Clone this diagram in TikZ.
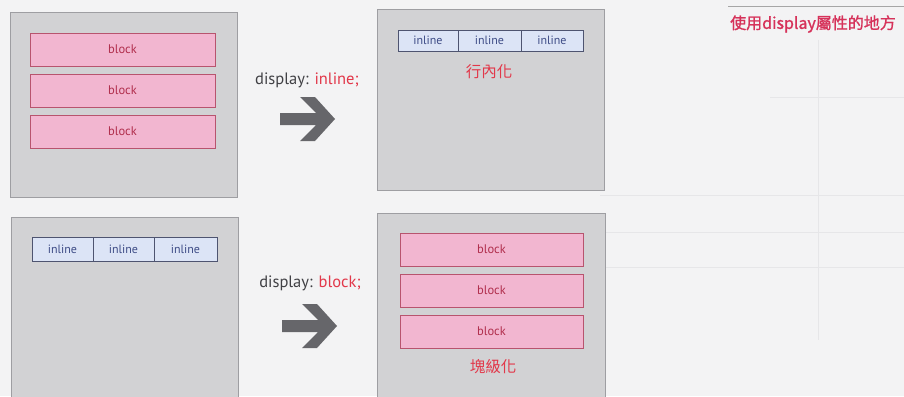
\documentclass[tikz,border=0pt]{standalone}
\usepackage{fontspec}
\setmainfont{PT Sans}
\newfontfamily\cjk{Noto Sans CJK TC}
\newfontfamily\cjkheavy[FakeBold=1.2]{Noto Sans CJK TC}
\definecolor{pagebg}{HTML}{F3F3F4}
\definecolor{panelfill}{HTML}{D2D2D4}
\definecolor{paneldraw}{HTML}{9E9EA2}
\definecolor{blockfill}{HTML}{F2B6D0}
\definecolor{blockdraw}{HTML}{B8546E}
\definecolor{blocktext}{HTML}{B02E4C}
\definecolor{inlfill}{HTML}{DCE4F6}
\definecolor{inldraw}{HTML}{4E5470}
\definecolor{inltext}{HTML}{3E4C86}
\definecolor{accent}{HTML}{E2384A}
\definecolor{heading}{HTML}{D6325A}
\definecolor{dark}{HTML}{404044}
\definecolor{arrowgray}{HTML}{66666A}
\definecolor{ghost}{HTML}{E6E6E8}
\tikzset{
  panel/.style={draw=paneldraw, fill=panelfill, line width=1pt, anchor=north west,
    minimum width=227pt, inner sep=0pt, outer sep=0pt},
  blockbox/.style={draw=blockdraw, fill=blockfill, line width=0.9pt, anchor=north west,
    minimum height=33pt, inner sep=0pt, outer sep=0pt, text=blocktext,
    font=\fontsize{12.5}{14}\selectfont},
  inlbox/.style={draw=inldraw, fill=inlfill, line width=0.8pt, anchor=north west,
    inner sep=0pt, outer sep=0pt, text=inltext, font=\fontsize{12}{14}\selectfont},
  rule/.style={font=\fontsize{16.5}{19}\selectfont, text=dark, inner sep=0pt},
  cjklabel/.style={font=\cjk\fontsize{15.5}{18}\selectfont, text=accent, inner sep=0pt},
  bigarrow/.pic={
    \fill[arrowgray] (-27,-6) -- (9,-6) -- (-7,-22) -- (8,-22) -- (28,0)
      -- (8,22) -- (-7,22) -- (9,6) -- (-27,6) -- cycle;
  }
}
\begin{document}
\begin{tikzpicture}[x=1pt, y=-1pt]
  \path[use as bounding box, fill=pagebg] (0,0) rectangle (904,396);

  % faint rules of the page behind
  \begin{scope}[draw=ghost, line width=0.8pt]
    \draw (770,97) -- (904,97);
    \draw (600,195) -- (904,195);
    \draw (600,232) -- (904,232);
    \draw (600,267) -- (904,267);
    \draw (818,40) -- (818,340);
  \end{scope}

  % heading
  \draw[gray!70, line width=1pt] (728,7) -- (904,7);
  \node[anchor=west, font=\cjkheavy\fontsize{16}{19}\selectfont, text=heading, inner sep=0pt]
    (title) at (730,24) {使用display屬性的地方};

  % ---- first row: block -> inline ----
  \node[panel, minimum height=184pt] (p1) at (10,13) {};
  \node[blockbox, minimum width=185pt] (b1) at (30,33) {block};
  \node[blockbox, minimum width=185pt] (b2) at (30,74) {block};
  \node[blockbox, minimum width=185pt] (b3) at (30,115) {block};

  \node[rule] (r1) at (307,80) {display: \textcolor{accent}{inline;}};
  \coordinate (a1) at (307,119);
  \pic at (a1) {bigarrow};

  \node[panel, minimum height=180pt] (p2) at (377,10) {};
  \node[inlbox, minimum width=60pt, minimum height=21pt] (i1) at (398,30) {inline};
  \node[inlbox, minimum width=63pt, minimum height=21pt] (i2) at (i1.north east) {inline};
  \node[inlbox, minimum width=62pt, minimum height=21pt] (i3) at (i2.north east) {inline};
  \node[cjklabel] (c1) at (489,72) {行內化};

  % ---- second row: inline -> block ----
  \node[panel, minimum height=200pt] (p3) at (11,217) {};
  \node[inlbox, minimum width=61pt, minimum height=24pt] (j1) at (32,237) {inline};
  \node[inlbox, minimum width=61pt, minimum height=24pt] (j2) at (j1.north east) {inline};
  \node[inlbox, minimum width=63pt, minimum height=24pt] (j3) at (j2.north east) {inline};

  \node[rule] (r2) at (310,283) {display: \textcolor{accent}{block;}};
  \coordinate (a2) at (309,326);
  \pic at (a2) {bigarrow};

  \node[panel, minimum width=228pt, minimum height=200pt] (p4) at (377,213) {};
  \node[blockbox, minimum width=183pt] (d1) at (400,233) {block};
  \node[blockbox, minimum width=183pt] (d2) at (400,274) {block};
  \node[blockbox, minimum width=183pt] (d3) at (400,315) {block};
  \node[cjklabel] (c2) at (493,367) {塊級化};
\end{tikzpicture}
\end{document}
